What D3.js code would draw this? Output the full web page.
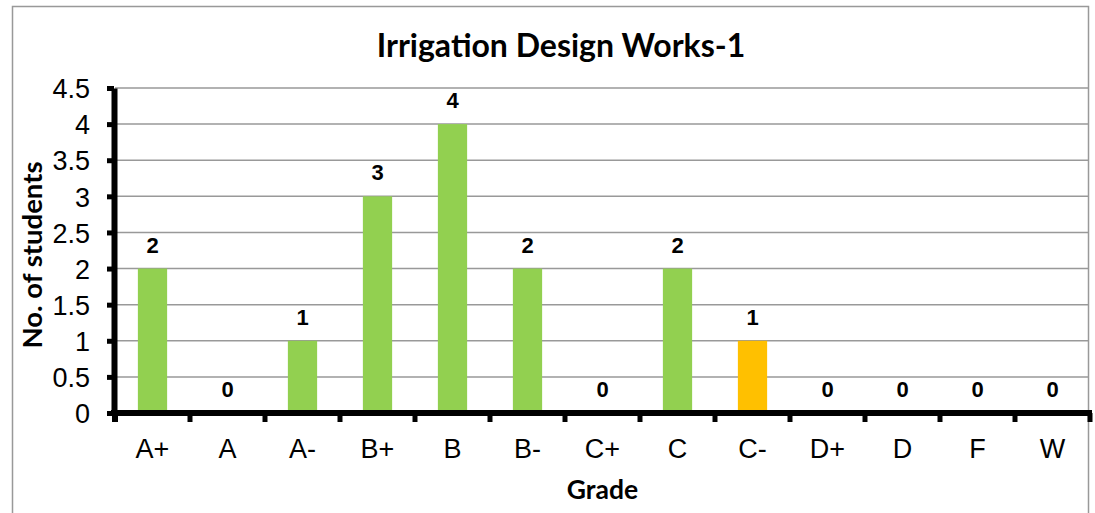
<!DOCTYPE html>
<html>
<head>
<meta charset="utf-8">
<script src="https://cdn.jsdelivr.net/npm/d3@7"></script>
<style>
  body { margin: 0; background: #fff; }
  svg { display: block; }
</style>
</head>
<body>
<div id="chart"></div>
<script>
// data
const grades = ["A+", "A", "A-", "B+", "B", "B-", "C+", "C", "C-", "D+", "D", "F", "W"];
const students = [2, 0, 1, 3, 4, 2, 0, 2, 1, 0, 0, 0, 0];
const barColors = ["#92d050", "#92d050", "#92d050", "#92d050", "#92d050", "#92d050", "#92d050",
                   "#92d050", "#ffc000", "#92d050", "#92d050", "#92d050", "#92d050"];
const yTicks = [0, 0.5, 1, 1.5, 2, 2.5, 3, 3.5, 4, 4.5];

const W = 1095, H = 513;
const plot = {left: 115, right: 1090, top: 88, bottom: 413};

const svg = d3.select("#chart").append("svg")
  .attr("width", W)
  .attr("height", H);

// outer chart border
svg.append("rect")
  .attr("x", 12.5).attr("y", 6.5)
  .attr("width", 1076).attr("height", 520)
  .attr("fill", "none")
  .attr("stroke", "#999")
  .attr("stroke-width", 1.5);

const x = d3.scaleBand()
  .domain(grades)
  .range([plot.left, plot.right])
  .paddingInner(0.61)
  .paddingOuter(0.305);

const xOuter = d3.scaleBand()
  .domain(grades)
  .range([plot.left, plot.right]);

const y = d3.scaleLinear()
  .domain([0, 4.5])
  .range([plot.bottom, plot.top]);

// gridlines
svg.append("g")
  .selectAll("line")
  .data(yTicks.filter(d => d > 0))
  .join("line")
  .attr("x1", plot.left).attr("x2", plot.right - 2)
  .attr("y1", d => y(d)).attr("y2", d => y(d))
  .attr("stroke", "#999")
  .attr("stroke-width", 1.5);

// bars
svg.append("g")
  .selectAll("rect")
  .data(grades)
  .join("rect")
  .attr("x", d => x(d))
  .attr("width", x.bandwidth())
  .attr("y", (d, i) => y(students[i]))
  .attr("height", (d, i) => y(0) - y(students[i]))
  .attr("fill", (d, i) => barColors[i]);

// value labels
svg.append("g")
  .selectAll("text")
  .data(grades)
  .join("text")
  .attr("x", d => x(d) + x.bandwidth() / 2)
  .attr("y", (d, i) => y(students[i]) - 16)
  .attr("text-anchor", "middle")
  .attr("font-family", "'Liberation Sans', Arial, sans-serif")
  .attr("font-weight", "bold")
  .attr("font-size", 22)
  .text((d, i) => students[i]);

// y axis
const yAxis = svg.append("g")
  .attr("transform", `translate(${plot.left - 1},0)`)
  .call(d3.axisLeft(y).tickValues(yTicks).tickSize(7).tickSizeOuter(0).tickFormat(d3.format("")));
yAxis.select(".domain")
  .attr("stroke", "#000")
  .attr("stroke-width", 6);
yAxis.selectAll(".tick line")
  .attr("stroke", "#000")
  .attr("stroke-width", 5);
yAxis.selectAll(".tick text")
  .attr("x", -24)
  .attr("dy", "0.36em")
  .attr("font-family", "'Liberation Sans', Arial, sans-serif")
  .attr("font-size", 27)
  .attr("fill", "#000");

// x axis, ticks on category boundaries
const xAxis = svg.append("g")
  .attr("transform", `translate(0,${plot.bottom})`);
xAxis.append("line")
  .attr("x1", plot.left - 4).attr("x2", plot.right + 2)
  .attr("stroke", "#000")
  .attr("stroke-width", 6);
xAxis.selectAll(".btick")
  .data(grades)
  .join("line")
  .attr("class", "btick")
  .attr("x1", d => xOuter(d) + xOuter.bandwidth())
  .attr("x2", d => xOuter(d) + xOuter.bandwidth())
  .attr("y1", 0).attr("y2", 9)
  .attr("stroke", "#000")
  .attr("stroke-width", 5);
xAxis.append("line")
  .attr("x1", plot.left).attr("x2", plot.left)
  .attr("y1", 0).attr("y2", 9)
  .attr("stroke", "#000")
  .attr("stroke-width", 6);
xAxis.selectAll(".lbl")
  .data(grades)
  .join("text")
  .attr("class", "lbl")
  .attr("x", d => xOuter(d) + xOuter.bandwidth() / 2)
  .attr("y", 45)
  .attr("text-anchor", "middle")
  .attr("font-family", "'Liberation Sans', Arial, sans-serif")
  .attr("font-size", 27)
  .text(d => d);

// titles
svg.append("text")
  .attr("x", 561).attr("y", 57)
  .attr("text-anchor", "middle")
  .attr("font-family", "Lato, 'Open Sans', sans-serif")
  .attr("font-weight", "bold")
  .attr("font-size", 32)
  .text("Irrigation Design Works-1");

svg.append("text")
  .attr("x", (plot.left + plot.right) / 2).attr("y", 499)
  .attr("text-anchor", "middle")
  .attr("font-family", "Lato, 'Open Sans', sans-serif")
  .attr("font-weight", "bold")
  .attr("font-size", 26.5)
  .text("Grade");

svg.append("text")
  .attr("transform", "translate(42,255) rotate(-90)")
  .attr("text-anchor", "middle")
  .attr("font-family", "Lato, 'Open Sans', sans-serif")
  .attr("font-weight", "bold")
  .attr("font-size", 27.5)
  .text("No. of students");
</script>
</body>
</html>
